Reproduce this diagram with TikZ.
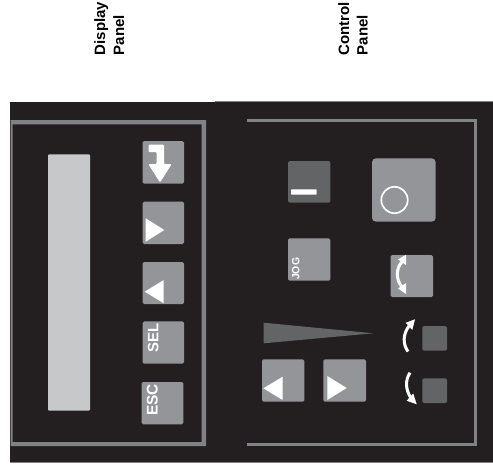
\documentclass[tikz,border=0pt]{standalone}
\usepackage{fontspec}
\setmainfont{Liberation Sans}
\definecolor{panelbg}{HTML}{231F20}
\definecolor{keygray}{HTML}{939598}
\definecolor{keydark}{HTML}{636466}
\definecolor{screen}{HTML}{C7C8CA}
\definecolor{framegray}{HTML}{808285}
\tikzset{
  panelkey/.style={fill=keygray,rounded corners=1.5pt},
  darkkey/.style={fill=keydark,rounded corners=1.5pt},
  glyph/.style={fill=white},
  curvearrow/.style={draw=white,line width=3pt},
  arrowhead/.style={fill=white},
  keytext/.style={text=white,rotate=90,inner sep=0pt,anchor=base west},
  caption/.style={text=black,rotate=90,font=\fontsize{15}{15}\selectfont\bfseries,inner sep=0pt,anchor=base west}
}
\begin{document}
\begin{tikzpicture}[x=1pt,y=-1pt]
\useasboundingbox (0,0) rectangle (493,472);
\fill[white] (0,0) rectangle (493,472);
% captions
\node[caption] (dispcap) at (105,55.5) {Display};
\node[caption] (dpanelcap) at (124,55.5) {Panel};
\node[caption] (ctrlcap) at (349,55.5) {Control};
\node[caption] (cpanelcap) at (367.5,55.5) {Panel};
% housing
\fill[panelbg] (9.5,102) rectangle (493,462);
\draw[framegray,line width=0.7pt] (215,101.5) -- (493,101.5);
\draw[framegray,line width=0.7pt] (9.5,462) -- (493,462);
% display frame
\fill[framegray,even odd rule] (10.5,120) rectangle (206,446) (12.7,124.3) rectangle (201.5,442);
% control frame
\draw[framegray,line width=2.6pt,line join=miter] (247.3,120.5) -- (475.3,120.5) -- (475.3,444.5) -- (247.3,444.5);
% screen
\fill[screen,rounded corners=1pt] (48,154.3) rectangle (90,410.7);
% display keys
\fill[panelkey] (142.7,141) rectangle (184,183.7);
\fill[panelkey] (142.7,201.7) rectangle (184,244);
\fill[panelkey] (142.7,262) rectangle (184,304);
\fill[panelkey] (142.7,321.3) rectangle (184,363.7);
\fill[panelkey] (141.7,382) rectangle (183.3,424.3);
% enter glyph
\fill[glyph,rounded corners=1pt] (148.5,144.7) -- (164,144.7) -- (164,164) -- (171.7,164) -- (160,182.5) -- (148.3,164) -- (156.7,164) -- (156.7,152) -- (148.5,152) -- cycle;
% display triangles
\fill[glyph] (145.7,218.3) -- (164.3,230) -- (145.7,241.7) -- cycle;
\fill[glyph] (163.7,280) -- (144.7,291.7) -- (163.7,303.3) -- cycle;
\node[keytext,font=\fontsize{15}{15}\selectfont\bfseries] (sel) at (158.3,352.7) {SEL};
\node[keytext,font=\fontsize{15.4}{15.4}\selectfont\bfseries] (esc) at (157.7,416) {ESC};
% control keys
\fill[darkkey] (288,161) rectangle (330.3,202.7);
\fill[glyph,rounded corners=0.8pt] (291,189.3) rectangle (316.7,194.7);
\fill[panelkey,rounded corners=4pt] (372,158.3) rectangle (435.7,221.7);
\draw[white,line width=1.7pt] (394.5,200) circle (13.2);
\fill[panelkey] (288,238.3) rectangle (330.3,280.7);
\node[keytext,font=\fontsize{10.4}{10.4}\selectfont\bfseries] (jog) at (299.3,280) {JOG};
\fill[panelkey] (390.7,255) rectangle (433,297);
% direction glyph on key
\draw[curvearrow] (402,262) .. controls (395.8,268) and (395.8,280) .. (402,287);
\fill[arrowhead] (406,254.7) -- (398,259.5) -- (406,265) -- cycle;
\fill[arrowhead] (406,294) -- (398,288.5) -- (406,283) -- cycle;
% speed wedge
\fill[keydark] (263.7,322.7) -- (373.3,333.3) -- (263.7,343.3) -- cycle;
% arrow keys
\fill[panelkey] (262,359.3) rectangle (304.3,401.7);
\fill[panelkey] (323.3,359.3) rectangle (366,401.7);
\fill[glyph] (282.7,376.7) -- (263.3,388.3) -- (282.7,400) -- cycle;
\fill[glyph] (327.3,376) -- (346.7,388) -- (327.3,400) -- cycle;
% indicators
\fill[darkkey] (422.3,326) rectangle (447,350.7);
\fill[darkkey] (422.3,378.3) rectangle (447,403);
\draw[curvearrow] (408,351.5) .. controls (402.5,344) and (403,334) .. (409,326);
\fill[arrowhead] (415,319.3) -- (405.7,322.7) -- (412.3,330) -- cycle;
\draw[curvearrow] (410,372.7) .. controls (405,380) and (405.5,390) .. (411,398);
\fill[arrowhead] (416.7,404.3) -- (406.7,400.7) -- (413.3,393.5) -- cycle;
\end{tikzpicture}
\end{document}
